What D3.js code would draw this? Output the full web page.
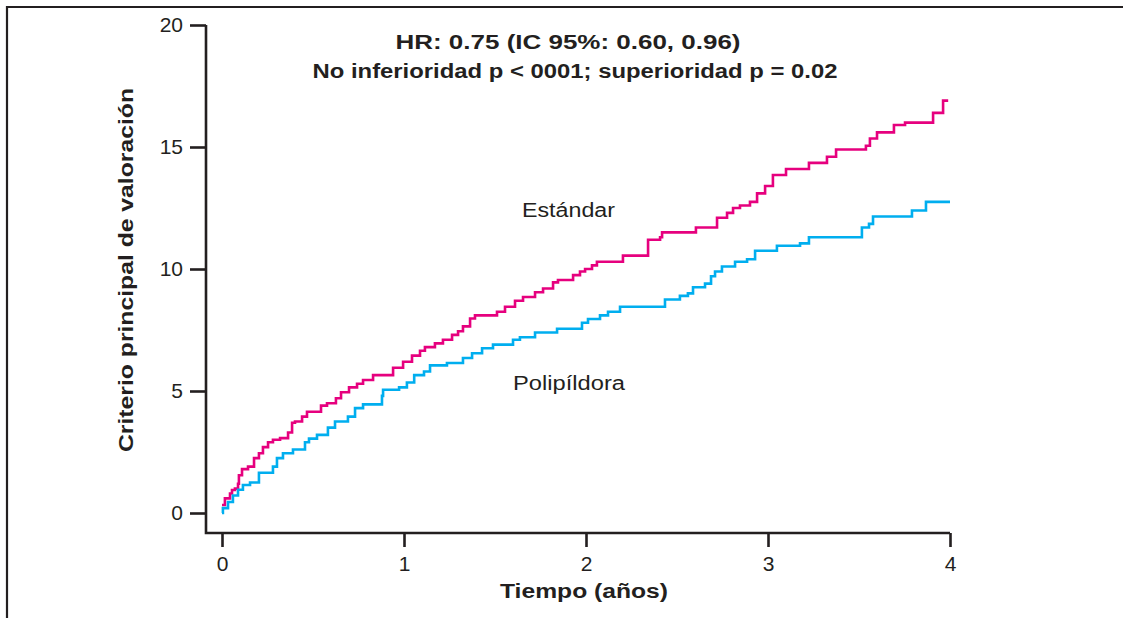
<!DOCTYPE html>
<html>
<head>
<meta charset="utf-8">
<script src="https://cdn.jsdelivr.net/npm/d3@7"></script>
<style>
    body { margin: 0; background: #fff; }
    svg text { font-family: 'Liberation Sans', Arial, sans-serif; fill: #231f20; }
    .tick text { font-size: 21px; }
    .bold { font-weight: bold; font-size: 20px; }
    .lbl { font-size: 20px; }
</style>
</head>
<body>
<svg id="chart" width="1123" height="618"></svg>
<script>
    // curva Estándar (tiempo en años, valor acumulado)
    const estTime = [0, 0.016, 0.044, 0.055, 0.071, 0.088, 0.093, 0.110, 0.143, 0.176, 0.203, 0.225, 0.253, 0.280, 0.319,
        0.363, 0.385, 0.401, 0.440, 0.467, 0.544, 0.577, 0.626, 0.654, 0.698, 0.742, 0.775, 0.830, 0.940, 0.995,
        1.044, 1.088, 1.115, 1.170, 1.214, 1.264, 1.297, 1.324, 1.363, 1.390, 1.511, 1.555, 1.610, 1.654, 1.720,
        1.764, 1.819, 1.846, 1.929, 1.967, 1.995, 2.033, 2.060, 2.203, 2.341, 2.407, 2.418, 2.604, 2.720, 2.775,
        2.808, 2.846, 2.901, 2.940, 2.984, 3.027, 3.099, 3.225, 3.324, 3.374, 3.538, 3.560, 3.599, 3.692, 3.753,
        3.907, 3.962, 3.99];
    const estValue = [0.33, 0.6, 0.8, 0.94, 1.0, 1.2, 1.55, 1.8, 1.9, 2.25, 2.45, 2.7, 2.9, 3.0, 3.07,
        3.3, 3.7, 3.75, 3.95, 4.15, 4.4, 4.5, 4.7, 4.95, 5.15, 5.3, 5.45, 5.65, 5.95, 6.2,
        6.45, 6.65, 6.8, 6.95, 7.1, 7.3, 7.45, 7.65, 7.97, 8.1, 8.25, 8.45, 8.7, 8.85, 9.05,
        9.2, 9.45, 9.55, 9.75, 9.9, 10.0, 10.15, 10.3, 10.55, 11.2, 11.3, 11.5, 11.7, 12.1, 12.3,
        12.5, 12.6, 12.75, 13.1, 13.4, 13.85, 14.1, 14.35, 14.6, 14.9, 15.05, 15.35, 15.6, 15.9, 16.0,
        16.4, 16.9, 16.9];

    // curva Polipíldora
    const polTime = [0, 0.005, 0.033, 0.060, 0.088, 0.115, 0.154, 0.203, 0.280, 0.302, 0.335, 0.390, 0.456, 0.478,
        0.522, 0.582, 0.621, 0.692, 0.731, 0.775, 0.879, 0.885, 0.973, 1.016, 1.056, 1.110, 1.143, 1.236, 1.324,
        1.374, 1.429, 1.489, 1.599, 1.637, 1.720, 1.841, 1.978, 2.011, 2.077, 2.121, 2.187, 2.434, 2.516, 2.560,
        2.588, 2.654, 2.687, 2.709, 2.747, 2.819, 2.885, 2.929, 3.049, 3.176, 3.225, 3.516, 3.555, 3.577, 3.791,
        3.868, 4.0];
    const polValue = [0, 0.2, 0.45, 0.72, 0.95, 1.15, 1.25, 1.65, 1.9, 2.25, 2.45, 2.6, 2.9, 3.05,
        3.2, 3.5, 3.75, 3.95, 4.3, 4.45, 4.8, 5.05, 5.15, 5.35, 5.65, 5.8, 6.05, 6.15, 6.35,
        6.55, 6.75, 6.9, 7.1, 7.2, 7.4, 7.55, 7.8, 7.95, 8.1, 8.25, 8.45, 8.75, 8.9, 9.0,
        9.25, 9.4, 9.7, 9.9, 10.1, 10.3, 10.4, 10.75, 10.95, 11.05, 11.3, 11.7, 11.85, 12.15, 12.4,
        12.75, 12.75];

    const xTicks = [0, 1, 2, 3, 4];
    const yTicks = [0, 5, 10, 15, 20];

    const svg = d3.select('#chart');
    const ink = '#231f20';

    const x = d3.scaleLinear().domain([0, 4]).range([222, 950]);
    const y = d3.scaleLinear().domain([0, 20]).range([513, 25]);
    const axisX = 206, axisY = 533;

    // marco (arriba e izquierda)
    svg.append('path')
        .attr('d', 'M7,618 V7 H1123')
        .attr('fill', 'none').attr('stroke', ink).attr('stroke-width', 2.2);

    // ejes
    const gy = svg.append('g').attr('transform', `translate(${axisX},0)`)
        .call(d3.axisLeft(y).tickValues(yTicks).tickSize(16).tickPadding(7).tickSizeOuter(0));
    gy.select('.domain').remove();

    const gx = svg.append('g').attr('transform', `translate(0,${axisY})`)
        .call(d3.axisBottom(x).tickValues(xTicks).tickFormat(d3.format('d'))
            .tickSize(14).tickPadding(9).tickSizeOuter(0));
    gx.select('.domain').remove();

    svg.selectAll('.tick line').attr('stroke', ink).attr('stroke-width', 2.6);
    svg.selectAll('.tick text').attr('fill', ink).attr('font-family', null);

    svg.append('path')
        .attr('d', `M${axisX},${y(20)} V${axisY} H${x(4)}`)
        .attr('fill', 'none').attr('stroke', ink).attr('stroke-width', 2.6);

    // curvas escalonadas
    const line = d3.line()
        .x(d => x(d[0]))
        .y(d => y(d[1]))
        .curve(d3.curveStepAfter);

    svg.append('path')
        .datum(d3.zip(estTime, estValue))
        .attr('d', line)
        .attr('fill', 'none').attr('stroke', '#e6007e').attr('stroke-width', 2.6);

    svg.append('path')
        .datum(d3.zip(polTime, polValue))
        .attr('d', line)
        .attr('fill', 'none').attr('stroke', '#00aeef').attr('stroke-width', 2.6);

    // textos (textLength para igualar el ancho del original)
    function label(cls, px, py, anchor, len, txt) {
        return svg.append('text').attr('class', cls)
            .attr('x', px).attr('y', py)
            .attr('text-anchor', anchor)
            .attr('textLength', len).attr('lengthAdjust', 'spacingAndGlyphs')
            .text(txt);
    }

    label('bold', 568, 49, 'middle', 345, 'HR: 0.75 (IC 95%: 0.60, 0.96)');
    label('bold', 575, 78, 'middle', 525, 'No inferioridad p < 0001; superioridad p = 0.02');
    label('lbl', 522, 217, 'start', 93, 'Estándar');
    label('lbl', 513, 390, 'start', 112, 'Polipíldora');
    label('bold', 584, 598, 'middle', 168, 'Tiempo (años)');

    svg.append('text').attr('class', 'bold')
        .attr('transform', 'translate(133,270) rotate(-90)')
        .attr('text-anchor', 'middle')
        .attr('textLength', 364).attr('lengthAdjust', 'spacingAndGlyphs')
        .text('Criterio principal de valoración');
</script>
</body>
</html>
